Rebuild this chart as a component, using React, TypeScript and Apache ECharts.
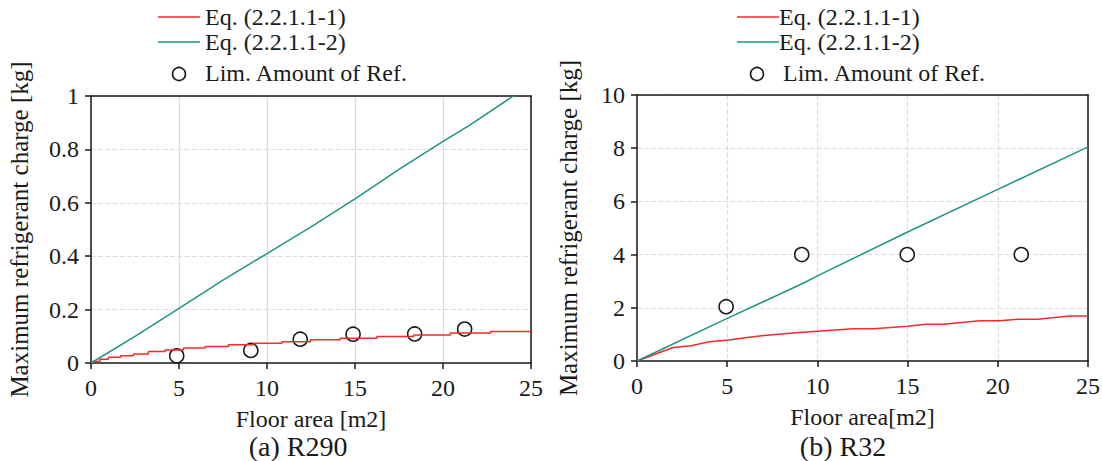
import React, { useEffect, useRef } from "react";
import * as echarts from "echarts";

const FONT = "Liberation Serif";
const RED = "#f52a2a";
const TEAL = "#1f9486";
const INK = "#1a1a1a";

// (a) R290
const r290Eq1X = [0, 0.51, 0.99, 1.69, 2.41, 3.26, 4.21, 5.25, 6.48, 7.81, 9.23, 10.85, 12.46, 14.16, 16.25, 18.33, 20.42, 22.7, 25];
const r290Eq1Y = [0.006, 0.014, 0.022, 0.027, 0.034, 0.043, 0.049, 0.056, 0.062, 0.068, 0.074, 0.08, 0.087, 0.093, 0.099, 0.105, 0.112, 0.118, 0.118];
const r290Eq2X = [0, 2.5, 5, 7.5, 10, 12.5, 15, 17.5, 20, 21.5, 24];
const r290Eq2Y = [0, 0.1, 0.205, 0.31, 0.41, 0.51, 0.615, 0.725, 0.83, 0.89, 1.0];
const r290RefX = [4.87, 9.08, 11.89, 14.89, 18.39, 21.23];
const r290RefY = [0.027, 0.047, 0.089, 0.108, 0.109, 0.127];

// (b) R32
const r32Eq1X = [0, 2.0, 3.0, 4.0, 5.1, 6.1, 7.2, 9.0, 10.2, 12.0, 13.1, 15.0, 16.0, 17.0, 19.0, 20.1, 21.1, 22.2, 24.0, 25];
const r32Eq1Y = [0, 0.51, 0.57, 0.72, 0.79, 0.88, 0.97, 1.07, 1.13, 1.21, 1.21, 1.31, 1.38, 1.38, 1.51, 1.51, 1.57, 1.57, 1.69, 1.69];
const r32Eq2X = [0, 5, 9.3, 10, 15, 20, 25];
const r32Eq2Y = [0, 1.6, 2.95, 3.2, 4.85, 6.45, 8.05];
const r32RefX = [4.94, 9.13, 14.98, 21.3];
const r32RefY = [2.04, 4.0, 4.0, 4.0];

const xTicks = { min: 0, max: 25, interval: 5 };
const NAME1 = "Eq. (2.2.1.1-1)";
const NAME2 = "Eq. (2.2.1.1-2)";
const NAME3 = "Lim. Amount of Ref.";

const zip = (xs: number[], ys: number[]) => xs.map((x, i) => [x, ys[i]]);

function buildOption(p: any) {
  const axisLine = { lineStyle: { color: INK, width: 1.5 } };
  const labelStyle = { color: INK, fontSize: 24, fontFamily: FONT };
  const legendText = (x: number, y: number, text: string) => ({
    type: "text",
    x,
    y,
    style: { text, fontSize: 24, fontFamily: FONT, fill: INK, verticalAlign: "middle", align: "left" },
  });
  return {
    animation: false,
    textStyle: { fontFamily: FONT },
    grid: {
      left: p.gridLeft,
      top: p.gridTop,
      width: p.gridWidth,
      height: p.gridHeight,
      containLabel: false,
      outerBoundsMode: "none",
    },
    xAxis: [
      {
        type: "value",
        ...xTicks,
        name: p.xName,
        nameLocation: "middle",
        nameGap: 44,
        nameTextStyle: { color: INK, fontSize: 24, fontFamily: FONT },
        axisLine,
        axisTick: { show: true, length: 6, lineStyle: { color: INK, width: 1.5 } },
        axisLabel: { ...labelStyle, margin: 13 },
        splitLine: { show: true, lineStyle: { color: "#dcdcdc", width: 1.2, type: p.xSplitType } },
      },
      {
        type: "value",
        position: "top",
        ...xTicks,
        axisLine: { ...axisLine, onZero: false },
        axisTick: { show: false },
        axisLabel: { show: false },
        splitLine: { show: false },
      },
    ],
    yAxis: [
      {
        type: "value",
        min: 0,
        max: p.yMax,
        interval: p.yInterval,
        name: "Maximum refrigerant charge [kg]",
        nameLocation: "middle",
        nameGap: p.yNameGap,
        nameTextStyle: { color: INK, fontSize: 25, fontFamily: FONT },
        axisLine,
        axisTick: { show: true, length: 6, lineStyle: { color: INK, width: 1.5 } },
        axisLabel: { ...labelStyle, margin: 12 },
        splitLine: { show: true, lineStyle: { color: "#dcdcdc", width: 1.2, type: "dashed" } },
      },
      {
        type: "value",
        position: "right",
        min: 0,
        max: p.yMax,
        interval: p.yInterval,
        axisLine: { ...axisLine, onZero: false },
        axisTick: { show: false },
        axisLabel: { show: false },
        splitLine: { show: false },
      },
    ],
    graphic: [
      {
        type: "text",
        x: p.captionX,
        y: 446,
        style: { text: p.caption, fontSize: 28, fontFamily: FONT, fill: INK, verticalAlign: "middle", align: "center" },
      },
      { type: "line", shape: { x1: p.lgLineX, y1: 17, x2: p.lgLineX + 42, y2: 17 }, style: { stroke: RED, lineWidth: 1.5 } },
      legendText(p.lgTextX, 17, NAME1),
      { type: "line", shape: { x1: p.lgLineX, y1: 42, x2: p.lgLineX + 42, y2: 42 }, style: { stroke: TEAL, lineWidth: 1.5 } },
      legendText(p.lgTextX, 42, NAME2),
      { type: "circle", shape: { cx: p.lgCircleX, cy: 74, r: 6.5 }, style: { fill: "#fff", stroke: INK, lineWidth: 1.6 } },
      legendText(p.lgText3X, 73, NAME3),
    ],
    series: [
      {
        name: NAME1,
        type: "line",
        step: p.redStep ? "end" : undefined,
        symbol: "none",
        data: p.eq1,
        lineStyle: { color: RED, width: 1.5 },
        itemStyle: { color: RED },
        clip: true,
      },
      {
        name: NAME2,
        type: "line",
        symbol: "none",
        data: p.eq2,
        lineStyle: { color: TEAL, width: 1.5 },
        itemStyle: { color: TEAL },
        clip: true,
      },
      {
        name: NAME3,
        type: "scatter",
        symbol: "circle",
        symbolSize: 14,
        data: p.ref,
        itemStyle: { color: "#fff", borderColor: INK, borderWidth: 1.6, opacity: 1 },
      },
    ],
  };
}

function Panel(props: { style: React.CSSProperties; p: any }) {
  const ref = useRef<HTMLDivElement>(null);
  useEffect(() => {
    const chart = echarts.init(ref.current!, undefined, { renderer: "svg" });
    chart.setOption(buildOption(props.p));
    return () => chart.dispose();
  }, []);
  return <div ref={ref} style={props.style} />;
}

export default function App() {
  const left = {
    gridLeft: 91,
    gridTop: 96,
    gridWidth: 440,
    gridHeight: 267,
    lgLineX: 158,
    lgTextX: 205,
    lgText3X: 205,
    lgCircleX: 179,
    xName: "Floor area [m2]",
    xSplitType: "solid",
    yMax: 1,
    yInterval: 0.2,
    yNameGap: 59,
    caption: "(a) R290",
    captionX: 298,
    redStep: true,
    eq1: zip(r290Eq1X, r290Eq1Y),
    eq2: zip(r290Eq2X, r290Eq2Y),
    ref: zip(r290RefX, r290RefY),
  };
  const right = {
    gridLeft: 637 - 551,
    gridTop: 95,
    gridWidth: 451,
    gridHeight: 266,
    lgLineX: 737 - 551,
    lgTextX: 779 - 551,
    lgText3X: 783 - 551,
    lgCircleX: 757 - 551,
    xName: "Floor area[m2]",
    xSplitType: "dashed",
    yMax: 10,
    yInterval: 2,
    yNameGap: 56,
    caption: "(b) R32",
    captionX: 843 - 551,
    redStep: false,
    eq1: zip(r32Eq1X, r32Eq1Y),
    eq2: zip(r32Eq2X, r32Eq2Y),
    ref: zip(r32RefX, r32RefY),
  };
  return (
    <div style={{ position: "fixed", left: 0, top: 0, width: 1102, height: 461, background: "#fff" }}>
      <Panel style={{ position: "absolute", left: 0, top: 0, width: 551, height: 461 }} p={left} />
      <Panel style={{ position: "absolute", left: 551, top: 0, width: 551, height: 461 }} p={right} />
    </div>
  );
}
